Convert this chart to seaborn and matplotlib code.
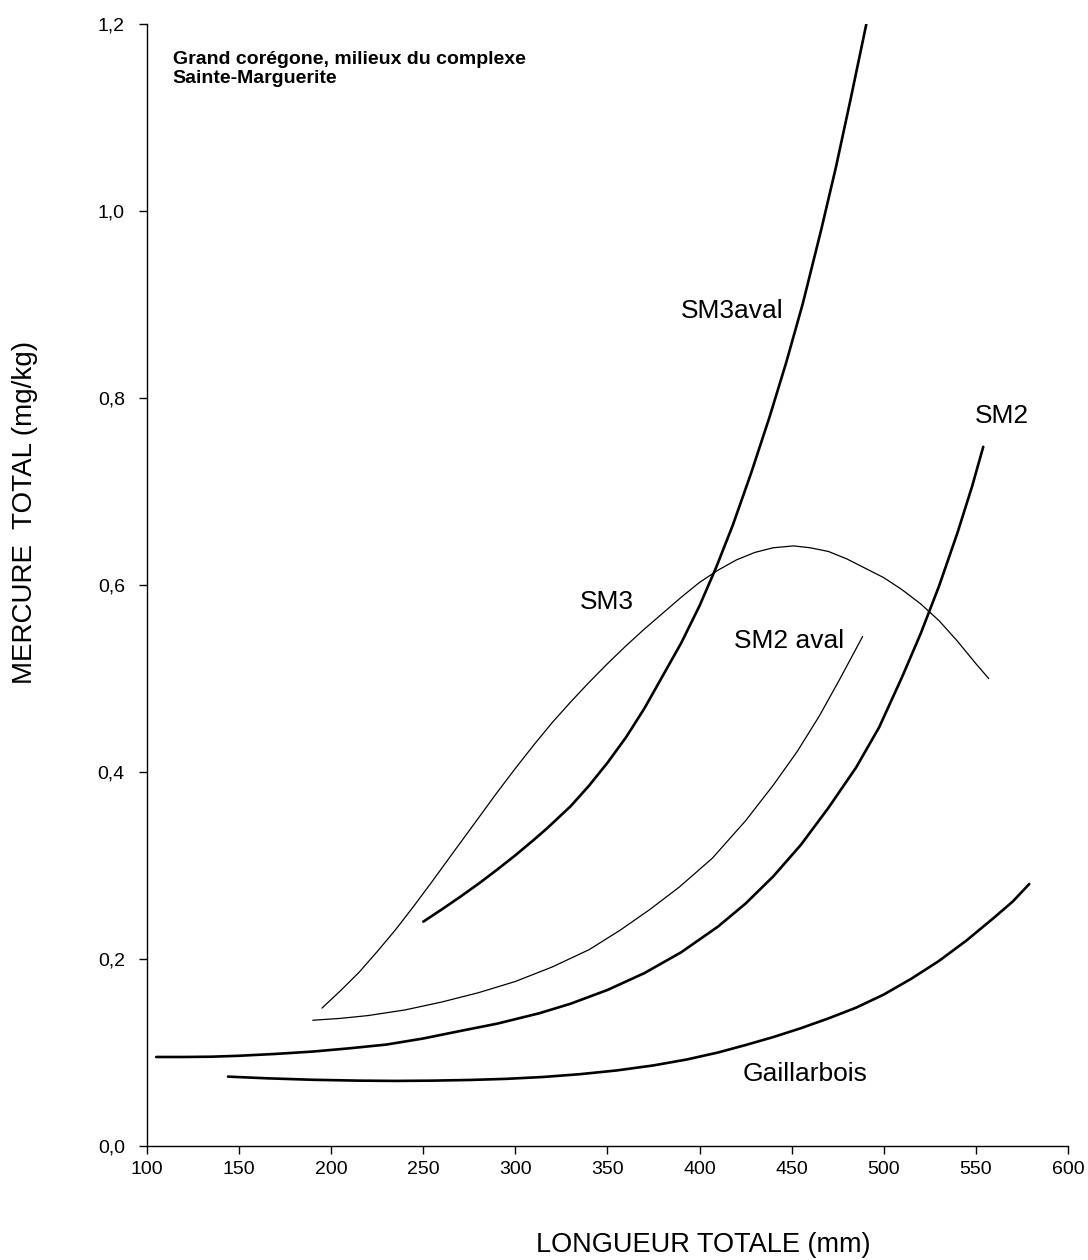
import pandas as pd
import matplotlib.pyplot as plt
import seaborn as sns

# values (longueur mm, mercure mg/kg)
sm3aval_x = [250, 260, 270, 281, 290, 300, 310, 317, 330, 340, 350, 360, 370, 380, 390,
             400, 409, 418, 428, 438, 447, 456, 466, 474, 482, 490.5]
sm3aval_y = [0.240, 0.253, 0.2665, 0.282, 0.2955, 0.311, 0.3275, 0.3395, 0.3635, 0.3855, 0.410,
             0.437, 0.468, 0.503, 0.538, 0.578, 0.619, 0.664, 0.720, 0.780, 0.838, 0.901,
             0.980, 1.047, 1.120, 1.200]

sm3_x = [195, 205, 215, 225, 235, 245, 255, 267, 280, 290, 300, 310, 320, 330, 340, 350,
         360, 370, 380, 390, 400, 410, 420, 430, 440, 451, 460, 470, 480, 490, 500, 510,
         520, 530, 540, 550, 557]
sm3_y = [0.1475, 0.166, 0.1855, 0.208, 0.2315, 0.257, 0.2835, 0.316, 0.351, 0.378, 0.404,
         0.429, 0.453, 0.475, 0.496, 0.516, 0.535, 0.553, 0.570, 0.587, 0.603, 0.616, 0.627,
         0.635, 0.640, 0.642, 0.640, 0.636, 0.628, 0.618, 0.608, 0.595, 0.580, 0.562, 0.540,
         0.516, 0.500]

sm2_x = [105, 120, 135, 150, 170, 190, 210, 230, 250, 270, 290, 313, 330, 350, 370, 390,
         410, 425, 440, 455, 470, 485, 497.5, 510, 520, 530, 540, 548, 554]
sm2_y = [0.0952, 0.0952, 0.0955, 0.0965, 0.0985, 0.1010, 0.1045, 0.1085, 0.1150, 0.1230,
         0.1308, 0.1420, 0.1522, 0.1669, 0.1849, 0.2072, 0.2347, 0.2594, 0.2884, 0.3222,
         0.3619, 0.4050, 0.4480, 0.5020, 0.5480, 0.5990, 0.6560, 0.7060, 0.7480]

sm2aval_x = [190, 205, 220, 240, 260, 280, 300, 320, 340, 357, 373, 389, 407, 425, 440,
             453, 465, 476, 488.5]
sm2aval_y = [0.1345, 0.1365, 0.1395, 0.1455, 0.1540, 0.1640, 0.1760, 0.1915, 0.2100, 0.2310,
             0.2530, 0.2770, 0.3080, 0.3480, 0.3860, 0.4220, 0.4600, 0.4990, 0.5450]

gaill_x = [144, 165, 190, 215, 235, 255, 275, 295, 315, 335, 355, 375, 393, 410, 425, 440,
           455, 470, 485, 500, 515, 530, 545, 560, 570, 579]
gaill_y = [0.0742, 0.0724, 0.0708, 0.0699, 0.0696, 0.0699, 0.0706, 0.0718, 0.0738, 0.0768,
           0.0808, 0.0862, 0.0925, 0.1000, 0.1080, 0.1165, 0.1260, 0.1365, 0.1480, 0.1620,
           0.1790, 0.1980, 0.2200, 0.2445, 0.2615, 0.2803]

x_ticks = [100, 150, 200, 250, 300, 350, 400, 450, 500, 550, 600]
y_ticks = [0.0, 0.2, 0.4, 0.6, 0.8, 1.0, 1.2]
y_tick_labels = ['0,0', '0,2', '0,4', '0,6', '0,8', '1,0', '1,2']

sns.set_style("ticks")
plt.rcParams['font.family'] = ['Liberation Sans', 'DejaVu Sans']
plt.rcParams['text.color'] = 'black'
plt.rcParams['axes.labelcolor'] = 'black'

fig = plt.figure(figsize=(10.88, 12.6), dpi=100)
ax = fig.add_axes([0.1351, 0.0905, 0.8465, 0.8902])

curves = [
    (sm3aval_x, sm3aval_y, 1.9),
    (sm3_x, sm3_y, 0.9),
    (sm2_x, sm2_y, 1.9),
    (sm2aval_x, sm2aval_y, 0.9),
    (gaill_x, gaill_y, 1.9),
]
for xs, ys, lw in curves:
    df = pd.DataFrame({'x': xs, 'y': ys})
    sns.lineplot(data=df, x='x', y='y', ax=ax, color='black', linewidth=lw,
                 sort=False, estimator=None)

ax.set_xlim(100, 600)
ax.set_ylim(0, 1.2)
ax.set_xticks(x_ticks)
ax.set_yticks(y_ticks)
ax.set_yticklabels(y_tick_labels)
ax.set_xlabel('')
ax.set_ylabel('')
ax.tick_params(axis='both', direction='out', length=6, width=1, labelsize=14,
               colors='black', labelcolor='black')
ax.tick_params(axis='x', pad=5)
ax.tick_params(axis='y', pad=10)
sns.despine(ax=ax)
for s in ['left', 'bottom']:
    ax.spines[s].set_linewidth(1)
    ax.spines[s].set_color('black')

# curve labels
ax.text(445.5, 0.886, 'SM3aval', ha='right', va='baseline', fontsize=19)
ax.text(564, 0.773, 'SM2', ha='center', va='baseline', fontsize=19)
ax.text(349.6, 0.574, 'SM3', ha='center', va='baseline', fontsize=19)
ax.text(448.4, 0.5325, 'SM2 aval', ha='center', va='baseline', fontsize=19)
ax.text(457, 0.070, 'Gaillarbois', ha='center', va='baseline', fontsize=19)

ax.text(113.9, 1.1715, 'Grand corégone, milieux du complexe\nSainte-Marguerite',
        ha='left', va='top', fontsize=14, fontweight='bold', linespacing=1.15)

fig.text(0.0234, 0.5937, 'MERCURE  TOTAL (mg/kg)', rotation=90, ha='center', va='center', fontsize=20)
fig.text(0.6466, 0.0063, 'LONGUEUR TOTALE (mm)', ha='center', va='baseline', fontsize=19.5)

fig.savefig('out.png', dpi=100)
